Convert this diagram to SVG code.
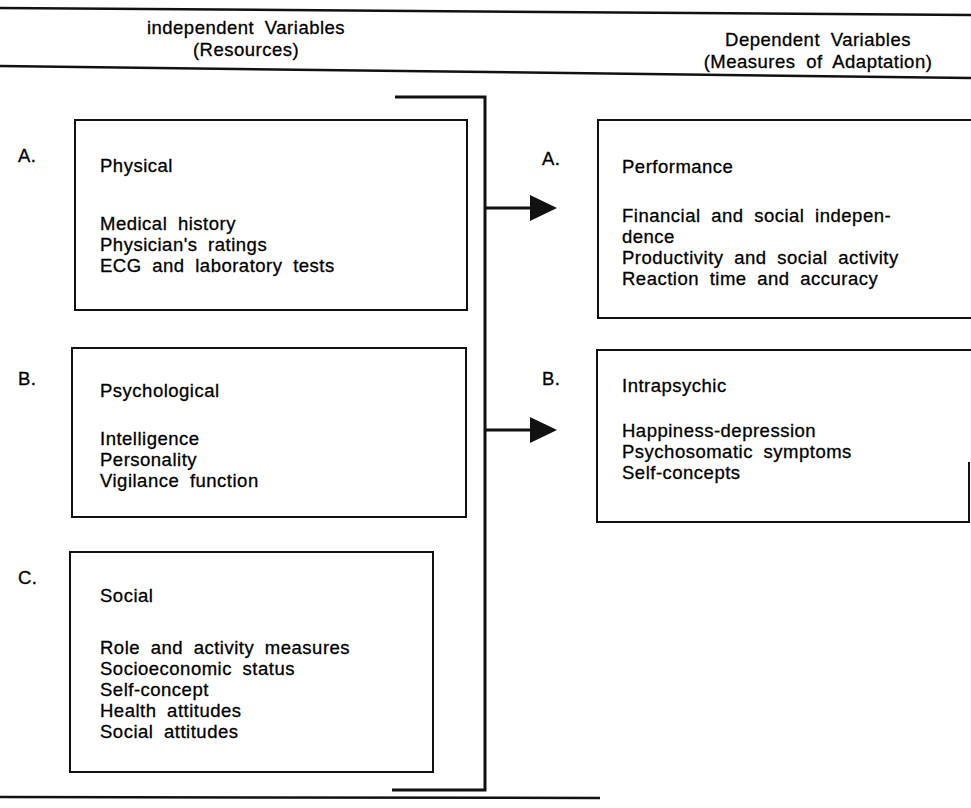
<svg xmlns="http://www.w3.org/2000/svg" width="971" height="808" viewBox="0 0 971 808">
<style>
text{font-family:"Liberation Sans",Arial,sans-serif;font-size:18.5px;fill:#000;stroke:#000;stroke-width:0.3px;letter-spacing:0.5px;word-spacing:5px}
.h{text-anchor:middle}
.box{fill:none;stroke:#111;stroke-width:2}
.rule{stroke:#111;stroke-width:2.5;fill:none}
.con{stroke:#111;stroke-width:3;fill:none}
</style>
<rect width="971" height="808" fill="#fff"/>
<g id="header">
<path class="rule" d="M0,8 L971,15"/>
<text class="h" x="246" y="34">independent Variables</text>
<text class="h" x="246" y="56">(Resources)</text>
<text class="h" x="818" y="46">Dependent Variables</text>
<text class="h" x="818" y="68">(Measures of Adaptation)</text>
<path class="rule" d="M0,66 L971,78"/>
<path class="rule" d="M0,797 L600,798"/>
</g>
<g id="physical">
<rect class="box" x="75" y="120" width="392" height="190"/>
<text x="18" y="162">A.</text>
<text x="100" y="172">Physical</text>
<text x="100" y="230">Medical history</text>
<text x="100" y="251">Physician's ratings</text>
<text x="100" y="272">ECG and laboratory tests</text>
</g>
<g id="psychological">
<rect class="box" x="72" y="348" width="394" height="169"/>
<text x="18" y="385">B.</text>
<text x="100" y="397">Psychological</text>
<text x="100" y="445">Intelligence</text>
<text x="100" y="466">Personality</text>
<text x="100" y="487">Vigilance function</text>
</g>
<g id="social">
<rect class="box" x="70" y="552" width="363" height="220"/>
<text x="18" y="584">C.</text>
<text x="100" y="602">Social</text>
<text x="100" y="654">Role and activity measures</text>
<text x="100" y="675">Socioeconomic status</text>
<text x="100" y="696">Self-concept</text>
<text x="100" y="717">Health attitudes</text>
<text x="100" y="738">Social attitudes</text>
</g>
<g id="performance">
<path class="box" d="M975,120 L598,120 L598,318 L975,318"/>
<text x="542" y="165">A.</text>
<text x="622" y="173">Performance</text>
<text x="622" y="222">Financial and social indepen-</text>
<text x="622" y="243">dence</text>
<text x="622" y="264">Productivity and social activity</text>
<text x="622" y="285">Reaction time and accuracy</text>
</g>
<g id="intrapsychic">
<path class="box" d="M975,350 L597,350 L597,522 L969,522 L969,462"/>
<text x="542" y="385">B.</text>
<text x="622" y="392">Intrapsychic</text>
<text x="622" y="437">Happiness-depression</text>
<text x="622" y="458">Psychosomatic symptoms</text>
<text x="622" y="479">Self-concepts</text>
</g>
<g id="connectors">
<path class="con" d="M395,97 L485,97 L485,790 L392,790"/>
<path class="con" d="M485,208 L532,208"/>
<path d="M530,195 L557,208 L530,221 z" fill="#111"/>
<path class="con" d="M485,430 L532,430"/>
<path d="M530,417 L557,430 L530,443 z" fill="#111"/>
</g>
</svg>
